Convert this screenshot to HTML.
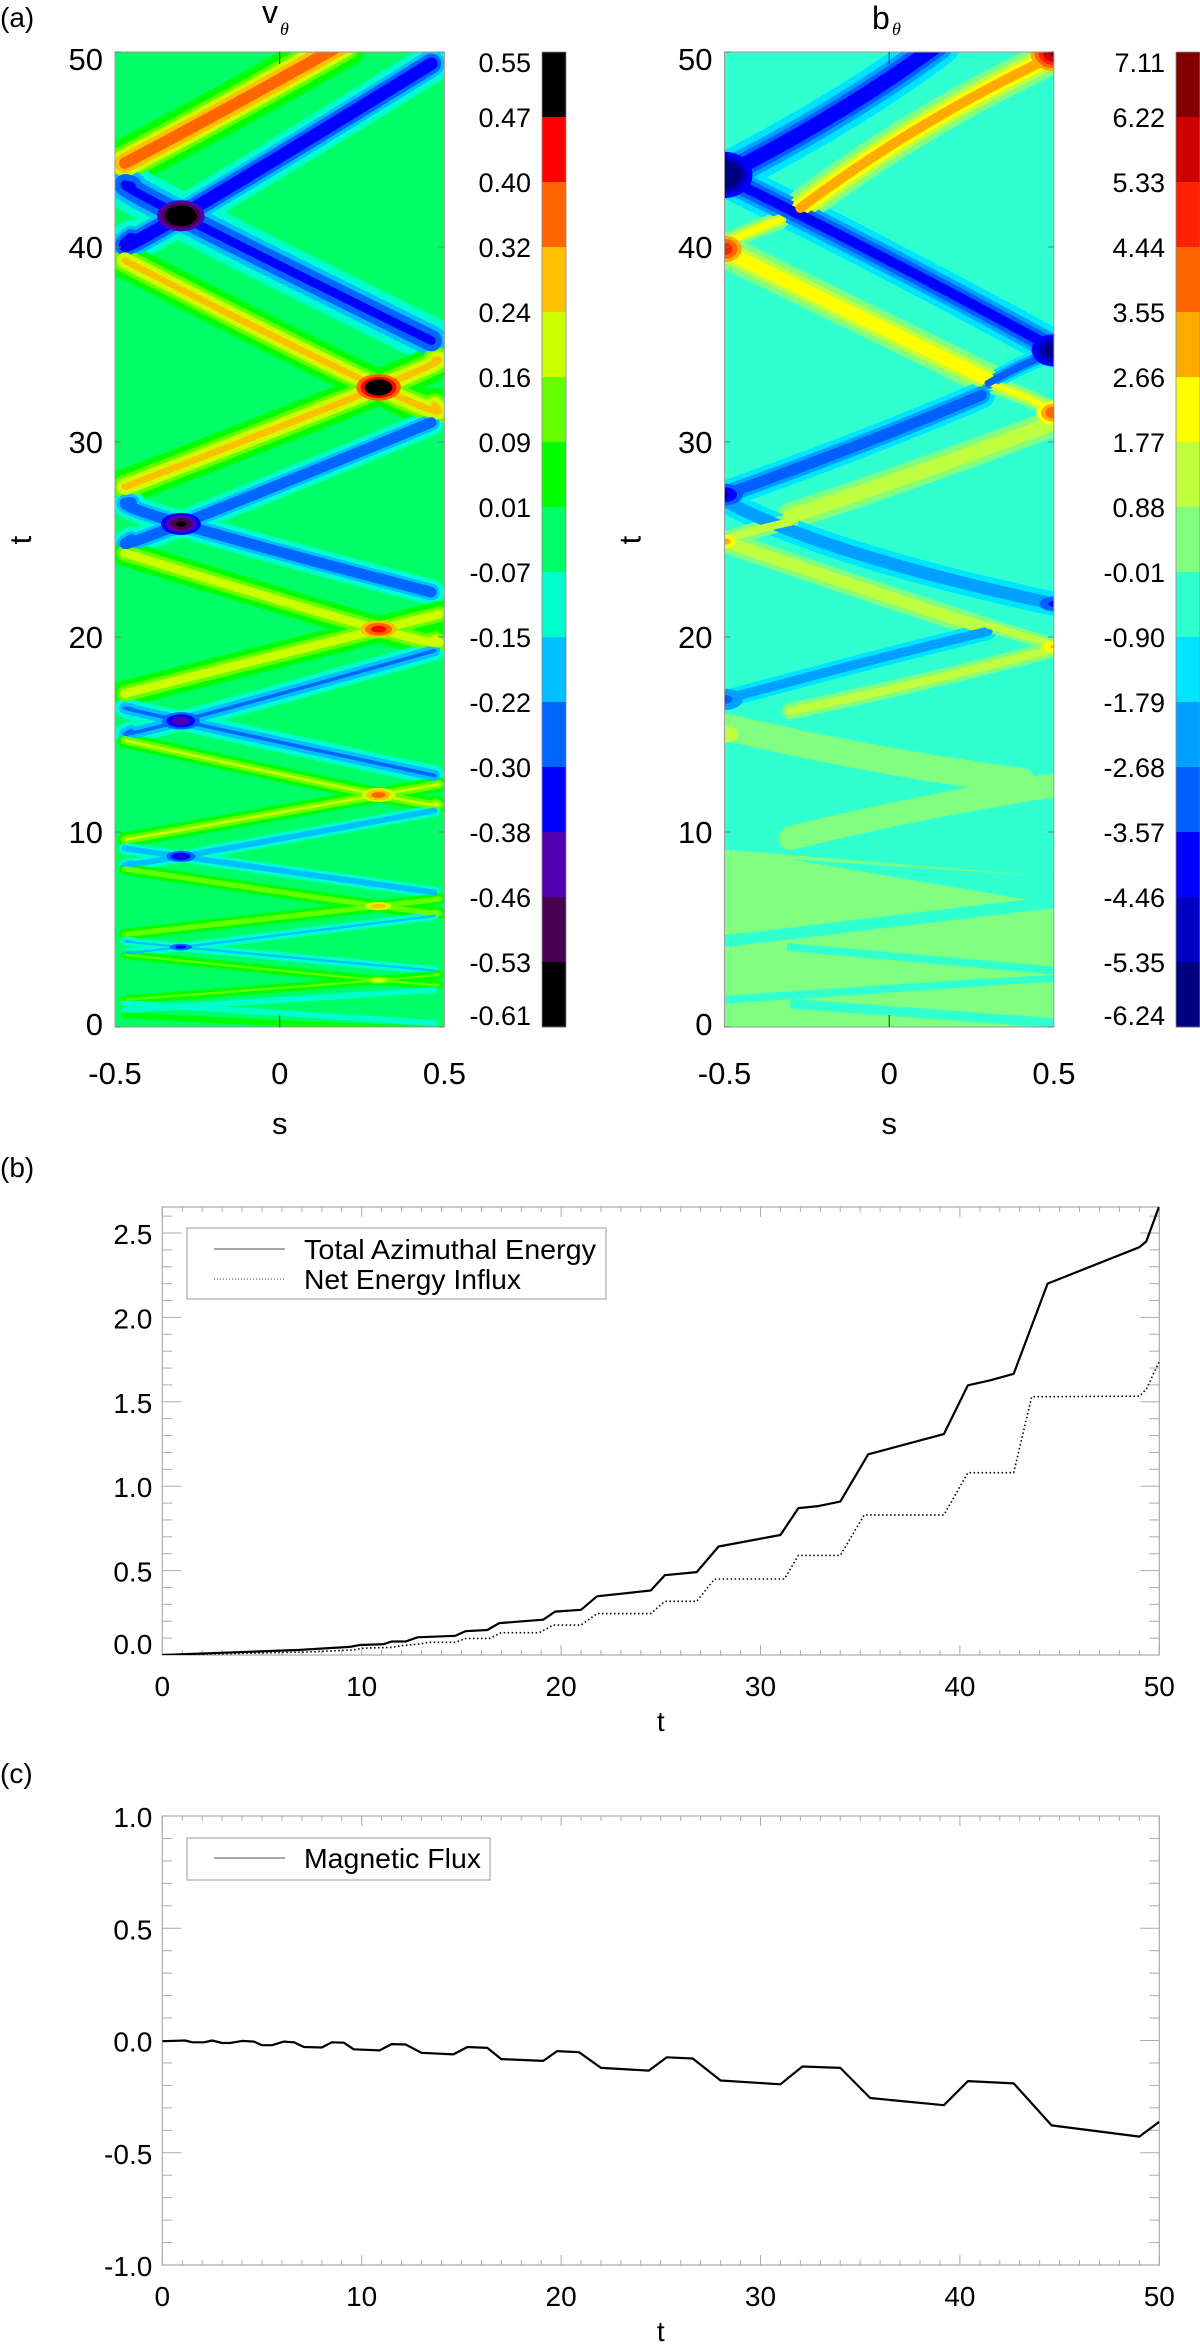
<!DOCTYPE html>
<html><head><meta charset="utf-8"><title>Azimuthal wave figure</title>
<style>
html,body{margin:0;padding:0;background:#fff;}
svg{display:block;font-family:"Liberation Sans",Arial,sans-serif;}
</style></head>
<body>
<svg id="fig" xmlns="http://www.w3.org/2000/svg" width="1200" height="2351" viewBox="0 0 1200 2351">
<defs>
<clipPath id="clipV"><rect x="115" y="52" width="329.4" height="975"/></clipPath>
<clipPath id="clipB"><rect x="724.5" y="52" width="329.4" height="975"/></clipPath>
<clipPath id="clipLB"><rect x="162.3" y="1207" width="997" height="448"/></clipPath>
<clipPath id="clipLC"><rect x="162.3" y="1816" width="997" height="449"/></clipPath>
</defs>
<rect x="0" y="0" width="1200" height="2351" fill="#fff"/>
<text x="0" y="27" font-size="28">(a)</text>
<text x="0" y="1177" font-size="28">(b)</text>
<text x="0" y="1783" font-size="28">(c)</text>
<g><text x="262" y="23" font-size="32">v</text><text x="280" y="35" font-size="18" font-style="italic" font-family="Liberation Serif,serif">θ</text></g>
<g><text x="872" y="29" font-size="32">b</text><text x="892" y="35" font-size="18" font-style="italic" font-family="Liberation Serif,serif">θ</text></g>
<g id="panelA"></g>
<g id="panelB"></g>
<g id="panelC"></g>
</svg>
<script>
// ---------------- data: v_theta contour field ----------------
const vLevels=[0.55,0.47,0.40,0.32,0.24,0.16,0.09,0.01,-0.07,-0.15,-0.22,-0.30,-0.38,-0.46,-0.53,-0.61];
const vColors=['#000000','#ff0000','#ff6600','#ffc000','#ccff00','#66ff00','#00ff00','#00ff66','#00ffcc','#00c0ff','#0066ff','#0000ff','#5000b0','#4a0050','#000000'];
const vWaveS0=[-0.47,-0.45,-0.45,-0.47,-0.47,-0.45,-0.45,-0.47,-0.47,-0.45,-0.45,-0.47,-0.47,-0.45,-0.45,-0.47,-0.47,-0.45,-0.45,-0.47,-0.47,-0.45,-0.45,-0.47];
const vWaveT0=[44.3,43.1,40.4,39.3,27.7,26.9,25.0,24.3,17.1,16.3,15.2,14.7,9.6,9.1,8.4,8.1,4.75,4.4,3.85,3.7,1.4,1.2,0.9,0.6];
const vWaveSM=[-0.15,-0.3,-0.3,0.3,0.3,-0.3,-0.3,0.3,0.3,-0.3,-0.3,0.3,0.3,-0.3,-0.3,0.3,0.3,-0.3,-0.3,0.3,0.3,-0.3,-0.3,0.0];
const vWaveTM=[47.2,41.6,41.6,32.8,32.8,25.8,25.8,20.4,20.4,15.7,15.7,11.9,11.9,8.75,8.75,6.2,6.2,4.1,4.1,2.4,2.4,1.05,1.05,0.2];
const vWaveS1=[0.19,0.46,0.46,0.47,0.47,0.46,0.46,0.47,0.47,0.47,0.47,0.47,0.47,0.47,0.47,0.47,0.47,0.47,0.47,0.47,0.47,0.47,0.47,0.47];
const vWaveT1=[50.4,35.2,49.4,31.9,34.2,22.3,31.0,19.9,21.1,12.9,19.3,11.5,12.4,6.9,11.1,5.9,6.55,2.9,5.7,2.2,2.7,0.2,1.9,-0.1];
const vWaveAmp=[0.40,-0.29,-0.34,0.29,0.29,-0.26,-0.26,0.23,0.23,-0.20,-0.20,0.20,0.20,-0.17,-0.17,0.16,0.16,-0.13,-0.13,0.13,0.13,-0.11,-0.11,0.11];
const vWaveSigma=[0.048,0.05,0.04,0.038,0.038,0.029,0.029,0.03,0.03,0.024,0.024,0.018,0.018,0.015,0.015,0.015,0.015,0.012,0.012,0.012,0.012,0.009,0.009,0.009];
const vHotS=[-0.3,0.3,-0.3,0.3,-0.3,0.3,-0.3,0.3,-0.3,0.3];
const vHotT=[41.6,32.8,25.8,20.4,15.7,11.9,8.75,6.2,4.1,2.4];
const vHotAmp=[-0.66,0.62,-0.52,0.47,-0.42,0.40,-0.36,0.32,-0.30,0.24];
const vHotRx=[0.09,0.09,0.075,0.075,0.065,0.06,0.055,0.055,0.05,0.05];
const vHotRy=[1.0,0.9,0.7,0.6,0.5,0.42,0.36,0.3,0.25,0.22];
const vBase=-0.03;
// ---------------- data: b_theta contour field ----------------
const bLevels=[7.11,6.22,5.33,4.44,3.55,2.66,1.77,0.88,-0.01,-0.90,-1.79,-2.68,-3.57,-4.46,-5.35,-6.24];
const bColors=['#800000','#cc0000','#ff2000','#ff6600','#ffaa00','#ffff00','#c0ff40','#80ff80','#30ffd0','#00e5ff','#00a0ff','#0060ff','#0000ff','#0000c0','#000080'];
const bWaveS0=[-0.5,-0.48,-0.27,-0.5,-0.5,0.28,0.5,0.3,0.3,-0.5,-0.5,-0.5,0.3,0.5,0.3,-0.5,-0.3];
const bWaveT0=[43.7,43.4,42.0,39.8,40.2,32.4,31.0,33.0,33.0,27.0,24.9,25.0,20.3,19.4,20.6,15.4,9.7];
const bWaveSM=[-0.15,0.0,0.1,-0.1,-0.42,-0.1,0.1,0.4,0.4,-0.1,-0.1,-0.4,-0.1,0.1,0.4,-0.05,0.1];
const bWaveTM=[47.0,39.3,46.2,36.5,40.8,29.8,28.5,32.4,33.9,24.3,22.6,25.5,18.6,17.7,20.1,13.8,11.2];
const bWaveS1=[0.15,0.5,0.5,0.3,-0.33,-0.5,-0.3,0.5,0.5,0.5,0.3,-0.3,-0.5,-0.3,0.5,0.4,0.5];
const bWaveT1=[50.4,34.8,49.8,33.2,41.4,27.3,26.2,31.6,34.6,21.7,20.4,25.9,16.8,16.2,19.6,12.6,12.4];
const bWaveAmp=[-4.0,-3.6,3.7,3.0,2.8,-3.0,2.1,2.5,-3.0,-2.0,2.1,1.9,-2.0,1.9,1.9,1.0,1.0];
const bWaveSigma=[0.045,0.04,0.036,0.036,0.02,0.03,0.033,0.02,0.02,0.03,0.027,0.02,0.022,0.021,0.017,0.045,0.04];
const bHotS=[-0.5,0.5,0.5,-0.5,-0.5,0.5,-0.5,0.5,0.5,-0.5,-0.5];
const bHotT=[43.7,34.7,49.9,39.9,27.3,31.5,24.9,21.7,19.5,16.8,15.0];
const bHotAmp=[-6.4,-5.5,6.8,5.5,-4.2,4.8,3.5,-3.3,3.2,-2.5,2.2];
const bHotRx=[0.1,0.09,0.08,0.07,0.07,0.06,0.05,0.07,0.06,0.07,0.06];
const bHotRy=[1.4,1.1,1.0,0.9,0.7,0.7,0.5,0.6,0.5,0.7,0.6];
const bBase=-0.45;
const bPatchS=[[-0.5,-0.5,0.0,0.5,0.5],[-0.3,0.5,0.5]];
const bPatchT=[[0,9.1,8.4,7.7,0],[8.6,7.7,6.3]];
const bPatchVal=[0.4,-0.45];
const bStripS0=[-0.5,-0.31,-0.5,-0.3,0.3];
const bStripT0=[4.4,4.1,1.4,1.2,2.3];
const bStripS1=[0.5,0.5,0.3,0.5,0.5];
const bStripT1=[6.4,2.9,2.3,0.2,2.5];
const bStripW=[0.6,0.4,0.4,0.5,0.35];
// ---------------- data: panel b lines ----------------
const bTotalTime=[0,6.9,9.4,9.9,11.1,11.5,12.2,12.8,14.7,15.2,16.3,16.9,19.1,19.7,21.0,21.8,24.5,25.2,26.8,27.9,31.0,31.9,32.9,34.0,35.4,39.2,40.4,41.5,42.7,44.4,49.0,49.35,50];
const bTotal=[0,0.03,0.048,0.059,0.064,0.08,0.08,0.105,0.114,0.141,0.148,0.189,0.209,0.257,0.268,0.348,0.382,0.473,0.491,0.643,0.711,0.870,0.882,0.909,1.189,1.309,1.598,1.627,1.666,2.2,2.416,2.45,2.66];
const bNetTime=[0,7.3,9.6,10.1,11.5,12.1,12.8,13.4,14.7,15.2,16.4,17.0,18.9,19.6,21.0,21.8,24.5,25.2,26.8,27.7,31.2,31.9,34.0,35.2,39.2,40.4,42.7,43.6,44.6,49.0,49.35,50];
const bNet=[0,0.018,0.03,0.041,0.045,0.057,0.064,0.075,0.075,0.098,0.098,0.132,0.132,0.177,0.177,0.245,0.245,0.318,0.318,0.45,0.45,0.59,0.59,0.83,0.83,1.08,1.08,1.53,1.53,1.534,1.575,1.74];
const bYTicks=[0,0.5,1.0,1.5,2.0,2.5];
const bYTickLabels=['0.0','0.5','1.0','1.5','2.0','2.5'];
const tTicks=[0,10,20,30,40,50];
const tTickLabels=['0','10','20','30','40','50'];
// ---------------- data: panel c line ----------------
const cTime=[0,1.15,1.5,2.1,2.5,3.0,3.4,4.0,4.6,5.0,5.5,6.1,6.6,7.1,8.0,8.5,9.1,9.6,10.9,11.5,12.2,13.0,14.6,15.3,16.3,17.0,19.1,19.8,20.9,22.0,24.4,25.3,26.6,28.0,31.0,32.1,34.0,35.5,39.2,40.4,42.7,44.6,49.0,50];
const cFlux=[-0.003,0.0,-0.008,-0.008,0.0,-0.011,-0.011,-0.002,-0.005,-0.021,-0.021,-0.005,-0.008,-0.029,-0.031,-0.008,-0.01,-0.039,-0.044,-0.016,-0.018,-0.055,-0.062,-0.029,-0.033,-0.083,-0.091,-0.047,-0.052,-0.122,-0.134,-0.075,-0.08,-0.178,-0.195,-0.116,-0.122,-0.256,-0.288,-0.181,-0.191,-0.378,-0.428,-0.362];
const cYTicks=[-1.0,-0.5,0.0,0.5,1.0];
const cYTickLabels=['-1.0','-0.5','0.0','0.5','1.0'];
const sTicks=[-0.5,0,0.5];
const sTickLabels=['-0.5','0','0.5'];
const contTTicks=[0,10,20,30,40,50];

// ---------------- helpers ----------------
const NS='http://www.w3.org/2000/svg';
function mk(tag,attrs,parent){const e=document.createElementNS(NS,tag);for(const k in attrs)e.setAttribute(k,attrs[k]);parent.appendChild(e);return e;}
function bandColor(levels,colors,v){for(let i=0;i<colors.length;i++){if(v<=levels[i]&&v>levels[i+1])return colors[i];}return v>levels[0]?colors[0]:colors[colors.length-1];}
function boundaries(levels,colors,bg){const out=[];for(let i=bg;i>=1;i--)out.push({L:levels[i],color:colors[i-1],depth:bg-i});for(let j=bg+1;j<colors.length;j++)out.push({L:levels[j],color:colors[j],depth:j-bg-1});return out;}

function drawContour(root,clipId,x0,y0,w,h,levels,colors,bg,base,W,H,P,S,name){
  const xs=v=>x0+(v+0.5)*w; const ys=t=>y0+h-t/50*h; const pxPerS=w;
  const g=mk('g',{'clip-path':'url(#'+clipId+')'},root);
  
  
  const bgr=mk('rect',{x:x0,y:y0,width:w,height:h,fill:colors[bg]},g);
  
  
  if(P){for(let p=0;p<P.s.length;p++){const pts=P.s[p].map((s,i)=>xs(s)+','+ys(P.t[p][i])).join(' ');
    const pg=mk('polygon',{points:pts,fill:bandColor(levels,colors,P.v[p])},g);
    
    }}
  if(S){for(let k=0;k<S.s0.length;k++){
    const ln=mk('line',{x1:xs(S.s0[k]),y1:ys(S.t0[k]),x2:xs(S.s1[k]),y2:ys(S.t1[k]),stroke:colors[bg],'stroke-width':S.w[k]/50*h},g);
    
    }}
  const bds=boundaries(levels,colors,bg);const items=[];
  for(let k=0;k<W.amp.length;k++){const a=W.amp[k];
    for(const b of bds){const r=(b.L-base)/a;if(r>0&&r<1){items.push({k,color:b.color,depth:b.depth,hw:W.sig[k]*Math.sqrt(-Math.log(r))});}}}
  items.sort((p,q)=>p.depth-q.depth);
  for(const it of items){const k=it.k;
    const X0=xs(W.s0[k]),Y0=ys(W.t0[k]),XM=xs(W.sm[k]),YM=ys(W.tm[k]),X1=xs(W.s1[k]),Y1=ys(W.t1[k]);
    const cx=2*XM-(X0+X1)/2,cy=2*YM-(Y0+Y1)/2;
    const pth=mk('path',{d:`M${X0},${Y0} Q${cx},${cy} ${X1},${Y1}`,fill:'none',stroke:it.color,'stroke-width':Math.max(0.8,2*it.hw*pxPerS),'stroke-linecap':'round'},g);
    
    }
  const hitems=[];
  for(let k=0;k<H.amp.length;k++){const a=H.amp[k];
    for(const b of bds){const r=(b.L-base)/a;if(r>0.45&&r<1){const f=Math.sqrt(-Math.log(r));hitems.push({k,color:b.color,depth:b.depth,f});}}}
  hitems.sort((p,q)=>p.depth-q.depth);
  for(const it of hitems){const k=it.k;
    const el=mk('ellipse',{cx:xs(H.s[k]),cy:ys(H.t[k]),rx:H.rx[k]*it.f*w,ry:H.ry[k]*it.f/50*h,fill:it.color},g);
    
    }
  const fr=mk('rect',{x:x0,y:y0,width:w,height:h,fill:'none',stroke:'#9a9a9a','stroke-width':1},root);
  
  
  for(const t of contTTicks){const y=ys(t);
    const t1=mk('line',{x1:x0,y1:y,x2:x0+6,y2:y,stroke:'#777'},root);
    const t2=mk('line',{x1:x0+w-6,y1:y,x2:x0+w,y2:y,stroke:'#777'},root);
    const lb=mk('text',{x:x0-12,y:y+11+(t===50?7:0)-(t===0?3:0),'font-size':31,'text-anchor':'end'},root);lb.textContent=String(t);
    
    }
  for(let i=0;i<sTicks.length;i++){const x=xs(sTicks[i]);
    if(i===1){const a=mk('line',{x1:x,y1:y0,x2:x,y2:y0+12,stroke:'#333'},root);
      const b=mk('line',{x1:x,y1:y0+h-12,x2:x,y2:y0+h,stroke:'#333'},root);}
    const lb=mk('text',{x:x,y:1084,'font-size':31,'text-anchor':'middle'},root);lb.textContent=sTickLabels[i];
    
    }
  const xl=mk('text',{x:x0+w/2,y:1134,'font-size':31,'text-anchor':'middle'},root);xl.textContent='s';
  
  
  const yl=mk('text',{x:0,y:0,'font-size':31,'text-anchor':'middle',transform:`translate(${x0-84},540) rotate(-90)`},root);yl.textContent='t';
  
  
}
function drawColorbar(root,x,y,w,h,levels,colors,labelX,name){
  const bh=h/colors.length;
  for(let i=0;i<colors.length;i++){const r=mk('rect',{x:x,y:y+i*bh,width:w,height:bh+0.5,fill:colors[i]},root);
    
    }
  const f=mk('rect',{x:x,y:y,width:w,height:h,fill:'none',stroke:'#888','stroke-width':0.8},root);
  
  
  for(let i=0;i<levels.length;i++){let ty=y+i*bh+10;if(i===0)ty=y+20;if(i===levels.length-1)ty=y+h-2;
    const t=mk('text',{x:labelX,y:ty,'font-size':27,'text-anchor':'end'},root);t.textContent=levels[i].toFixed(2);
    
    }
}
function lineAxes(root,x0,x1,y0,y1,ymin,ymax,yTicks,yLabels,minorStep,name,labelFix){
  const ys=v=>y1-(v-ymin)/(ymax-ymin)*(y1-y0);const xs=t=>x0+t/50*(x1-x0);
  const fr=mk('rect',{x:x0,y:y0,width:x1-x0,height:y1-y0,fill:'none',stroke:'#aaa','stroke-width':1.2},root);
  
  
  for(let t=0;t<=50;t+=1){const maj=t%10===0;const L=maj?10:5;
    const a=mk('line',{x1:xs(t),y1:y1,x2:xs(t),y2:y1-L,stroke:'#aaa'},root);
    const b=mk('line',{x1:xs(t),y1:y0,x2:xs(t),y2:y0+L,stroke:'#aaa'},root);}
  for(let v=Math.ceil(ymin/minorStep-1e-6)*minorStep;v<=ymax+1e-6;v+=minorStep){const maj=Math.abs(v/0.5-Math.round(v/0.5))<1e-6;const L=maj?19:10;
    const a=mk('line',{x1:x0,y1:ys(v),x2:x0+L,y2:ys(v),stroke:'#aaa'},root);
    const b=mk('line',{x1:x1,y1:ys(v),x2:x1-L,y2:ys(v),stroke:'#aaa'},root);}
  for(let i=0;i<tTicks.length;i++){const lb=mk('text',{x:xs(tTicks[i]),y:y1+41,'font-size':28,'text-anchor':'middle'},root);lb.textContent=tTickLabels[i];
    
    }
  for(let i=0;i<yTicks.length;i++){let yy=ys(yTicks[i])+11;if(labelFix&&i===0)yy=y1-1;
    const lb=mk('text',{x:x0-10,y:yy,'font-size':28,'text-anchor':'end'},root);lb.textContent=yLabels[i];
    
    }
  const xl=mk('text',{x:(x0+x1)/2,y:y1+76,'font-size':28,'text-anchor':'middle'},root);xl.textContent='t';
  
  
  return {xs,ys};
}
function linePath(xs,ys,T,V){return T.map((t,i)=>(i?'L':'M')+xs(t).toFixed(1)+','+ys(V[i]).toFixed(1)).join(' ');}

// ---------------- panel a ----------------
const pA=document.getElementById('panelA');
drawContour(pA,'clipV',115,52,329.4,975,vLevels,vColors,7,vBase,
  {s0:vWaveS0,t0:vWaveT0,sm:vWaveSM,tm:vWaveTM,s1:vWaveS1,t1:vWaveT1,amp:vWaveAmp,sig:vWaveSigma},
  {s:vHotS,t:vHotT,amp:vHotAmp,rx:vHotRx,ry:vHotRy},null,null,'v-theta');
drawColorbar(pA,542,52,24,975,vLevels,vColors,531,'v-theta');
drawContour(pA,'clipB',724.5,52,329.4,975,bLevels,bColors,8,bBase,
  {s0:bWaveS0,t0:bWaveT0,sm:bWaveSM,tm:bWaveTM,s1:bWaveS1,t1:bWaveT1,amp:bWaveAmp,sig:bWaveSigma},
  {s:bHotS,t:bHotT,amp:bHotAmp,rx:bHotRx,ry:bHotRy},
  {s:bPatchS,t:bPatchT,v:bPatchVal},{s0:bStripS0,t0:bStripT0,s1:bStripS1,t1:bStripT1,w:bStripW},'b-theta');
drawColorbar(pA,1176,52,24,975,bLevels,bColors,1165,'b-theta');

// ---------------- panel b ----------------
const pB=document.getElementById('panelB');
const axB=lineAxes(pB,162.3,1159.3,1207,1655,0,2.654,bYTicks,bYTickLabels,0.1,'energy',true);
const gB=mk('g',{'clip-path':'url(#clipLB)'},pB);


const l1=mk('path',{d:linePath(axB.xs,axB.ys,bTotalTime,bTotal),fill:'none',stroke:'#000','stroke-width':2.2,'stroke-linejoin':'round'},gB);


const l2=mk('path',{d:linePath(axB.xs,axB.ys,bNetTime,bNet),fill:'none',stroke:'#000','stroke-width':1.6,'stroke-dasharray':'1.5,2.5'},gB);


const lgB=mk('g',{},pB);


mk('rect',{x:187,y:1228,width:419,height:71,fill:'#fff',stroke:'#aaa','stroke-width':1.2},lgB);
const le1=mk('line',{x1:214,y1:1249,x2:285,y2:1249,stroke:'#888','stroke-width':1.5},lgB);


const lt1=mk('text',{x:304,y:1259,'font-size':28,textLength:292,lengthAdjust:'spacingAndGlyphs'},lgB);lt1.textContent='Total Azimuthal Energy';


const le2=mk('line',{x1:214,y1:1279,x2:285,y2:1279,stroke:'#666','stroke-width':1.2,'stroke-dasharray':'1,2'},lgB);


const lt2=mk('text',{x:304,y:1289,'font-size':28,textLength:217,lengthAdjust:'spacingAndGlyphs'},lgB);lt2.textContent='Net Energy Influx';



// ---------------- panel c ----------------
const pC=document.getElementById('panelC');
const axC=lineAxes(pC,162.3,1159.3,1816,2265,-1,1,cYTicks,cYTickLabels,0.1,'flux',false);
const gC=mk('g',{'clip-path':'url(#clipLC)'},pC);


const l3=mk('path',{d:linePath(axC.xs,axC.ys,cTime,cFlux),fill:'none',stroke:'#000','stroke-width':2.2,'stroke-linejoin':'round'},gC);


const lgC=mk('g',{},pC);


mk('rect',{x:187,y:1838,width:303,height:42,fill:'#fff',stroke:'#aaa','stroke-width':1.2},lgC);
const le3=mk('line',{x1:214,y1:1858,x2:285,y2:1858,stroke:'#888','stroke-width':1.5},lgC);


const lt3=mk('text',{x:304,y:1868,'font-size':28,textLength:177,lengthAdjust:'spacingAndGlyphs'},lgC);lt3.textContent='Magnetic Flux';


</script>
</body></html>
